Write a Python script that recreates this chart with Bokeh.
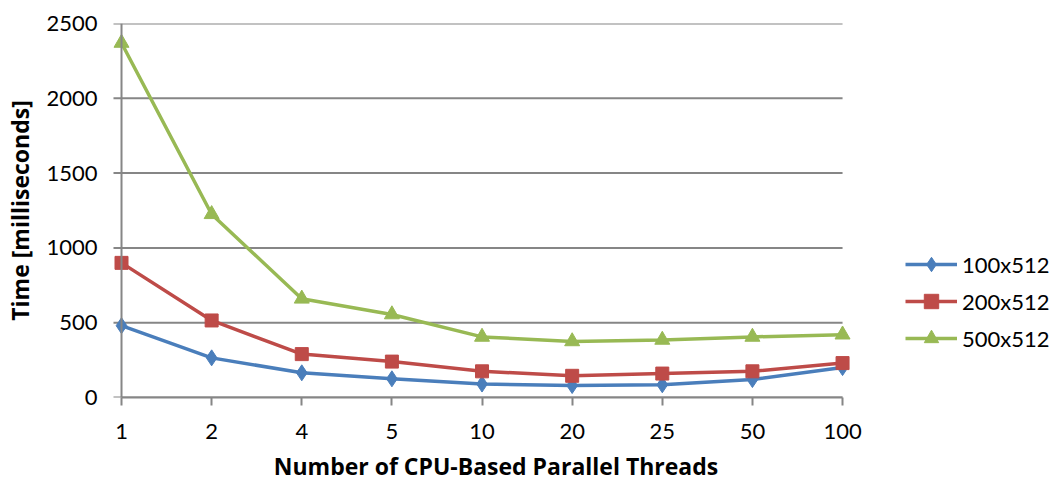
from bokeh.plotting import figure
from bokeh.layouts import row
from bokeh.models import Range1d, FixedTicker, Legend, LegendItem, ColumnDataSource, Span
from bokeh.embed import file_html
from bokeh.resources import INLINE

threads = ["1", "2", "4", "5", "10", "20", "25", "50", "100"]
s100 = [480, 265, 165, 125, 90, 80, 85, 120, 200]
s200 = [900, 515, 290, 240, 175, 145, 160, 175, 230]
s500 = [2370, 1225, 660, 555, 405, 375, 385, 405, 420]
series_names = ["100x512", "200x512", "500x512"]
y_ticks = [0, 500, 1000, 1500, 2000, 2500]

FONT = "Lato"
TFONT = "Open Sans"
GRID = "#868686"
colors = ["#4A7EBB", "#BE4B48", "#98B954"]
markers = ["diamond", "square", "triangle"]
sizes = [16, 13, 15]

PAD_L = 0.1        # left padding (category units) so edge markers are not cut
PAD_R = 0.41       # right padding (centres the axis title like the reference)
TICK = 0.089       # y tick length in category units (~8px)
W_MAIN = 879

n = len(threads)
idx = list(range(n))
src = ColumnDataSource(dict(x=idx, a=s100, b=s200, c=s500))

p = figure(width=W_MAIN, height=484, output_backend="svg", toolbar_location=None,
           x_range=Range1d(-PAD_L, n - 1 + PAD_R), y_range=Range1d(y_ticks[0], y_ticks[-1]),
           min_border_left=112, min_border_right=0, min_border_top=23, min_border_bottom=86)
p.outline_line_color = None
p.xgrid.visible = False
p.ygrid.visible = False

# horizontal gridlines + y tick marks (from tick values)
p.segment(x0=[-TICK] * len(y_ticks), x1=[n - 1] * len(y_ticks), y0=y_ticks, y1=y_ticks,
          line_color=GRID, line_width=2)
# vertical value axis line at first category
p.add_layout(Span(location=0, dimension="height", line_color=GRID, line_width=2))

# axes
p.xaxis.ticker = FixedTicker(ticks=idx)
p.xaxis.major_label_overrides = {i: t for i, t in enumerate(threads)}
p.xaxis.bounds = (0, n - 1)
p.yaxis.ticker = FixedTicker(ticks=y_ticks)
for ax in (p.xaxis[0], p.yaxis[0]):
    ax.axis_line_color = GRID
    ax.axis_line_width = 2
    ax.major_tick_line_color = GRID
    ax.major_tick_line_width = 2
    ax.major_tick_in = 0
    ax.major_tick_out = 8
    ax.minor_tick_line_color = None
    ax.major_label_text_font = FONT
    ax.major_label_text_font_size = "22px"
    ax.major_label_text_color = "#000000"
    ax.axis_label_text_font = TFONT
    ax.axis_label_text_font_size = "23px"
    ax.axis_label_text_font_style = "bold"
    ax.axis_label_text_color = "#000000"
p.yaxis.axis_line_color = None
p.yaxis.major_tick_line_color = None
p.yaxis.major_tick_out = 0
p.xaxis.major_label_standoff = 18
p.xaxis.axis_label = "Number of CPU-Based Parallel Threads"
p.xaxis.axis_label_standoff = 8
p.yaxis.major_label_standoff = 15
p.yaxis.axis_label = "Time [milliseconds]"
p.yaxis.axis_label_standoff = 7

for key, c, m, sz in zip(["a", "b", "c"], colors, markers, sizes):
    p.line("x", key, source=src, line_color=c, line_width=3.5)
    p.scatter("x", key, source=src, marker=m, size=sz, fill_color=c, line_color=c)

# legend panel (separate figure to the right, same series and styles; its
# ranges keep the series out of view so only the legend shows)
q = figure(width=1058 - W_MAIN, height=484, output_backend="svg", toolbar_location=None,
           x_axis_location=None, y_axis_location=None,
           x_range=Range1d(100, 101), y_range=Range1d(1e6, 1e6 + 1),
           min_border=0, min_border_left=0, min_border_right=0, min_border_top=0, min_border_bottom=0)
q.outline_line_color = None
q.xgrid.visible = False
q.ygrid.visible = False
items = []
for key, name, c, m, sz in zip(["a", "b", "c"], series_names, colors, markers, sizes):
    ln = q.line("x", key, source=src, line_color=c, line_width=3.5)
    sc = q.scatter("x", key, source=src, marker=m, size=sz, fill_color=c, line_color=c)
    items.append(LegendItem(label=name, renderers=[ln, sc]))
legend = Legend(items=items, location=(26, 41), margin=0, padding=0,
                border_line_alpha=0, background_fill_alpha=0,
                glyph_width=52, glyph_height=36, spacing=1, label_standoff=5,
                label_text_font=FONT, label_text_font_size="22px", label_text_color="#000000")
q.add_layout(legend, "center")

layout = row(p, q, spacing=0)
open("out.html", "w").write(file_html(layout, INLINE))
